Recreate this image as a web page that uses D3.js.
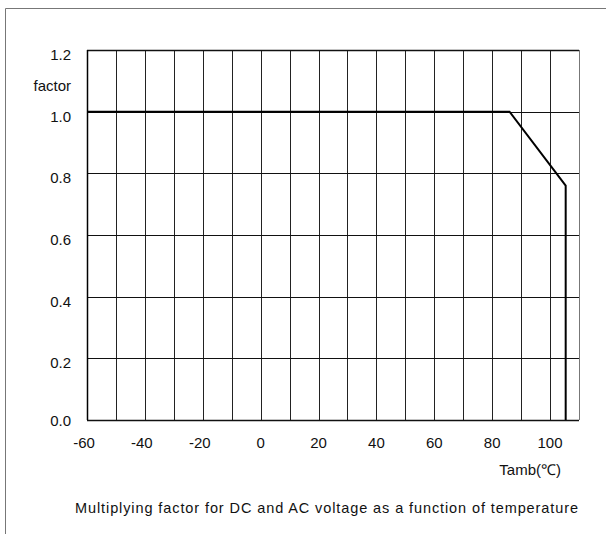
<!DOCTYPE html>
<html>
<head>
<meta charset="utf-8">
<script src="https://cdn.jsdelivr.net/npm/d3@7"></script>
<style>
  body { margin: 0; background: #fff; }
  text { font-family: "Liberation Sans", Arial, sans-serif; fill: #111; }
</style>
</head>
<body>
<div id="graph"></div>
<script>
// Derating curve: temperature (degC) vs multiplying factor
const temps = [-60, 86, 105.4, 105.4];
const factors = [1.0, 1.0, 0.76, 0.0];

const xTicks = [-60, -40, -20, 0, 20, 40, 60, 80, 100];
const yTicks = [0.0, 0.2, 0.4, 0.6, 0.8, 1.0, 1.2];
const xGrid = d3.range(-60, 111, 10);

const w = 606;
const h = 534;

const xScale = d3.scaleLinear().domain([-60, 110]).range([87, 579]);
const yScale = d3.scaleLinear().domain([0, 1.2]).range([420, 50]);

const svg = d3.select("#graph")
  .append("svg")
  .attr("width", w)
  .attr("height", h);

// outer frame (top and left only)
svg.append("path")
  .attr("d", "M5.5,534 L5.5,8.5 L606,8.5")
  .attr("fill", "none")
  .attr("stroke", "#777")
  .attr("stroke-width", 1);

// vertical grid
svg.selectAll(".vgrid")
  .data(xGrid)
  .enter()
  .append("line")
  .attr("class", "vgrid")
  .attr("x1", (d) => Math.round(xScale(d)) + 0.5)
  .attr("x2", (d) => Math.round(xScale(d)) + 0.5)
  .attr("y1", yScale(1.2))
  .attr("y2", yScale(0))
  .attr("stroke", (d) => d === 110 ? "#777" : "#222")
  .attr("stroke-width", 1);

// horizontal grid
svg.selectAll(".hgrid")
  .data(yTicks)
  .enter()
  .append("line")
  .attr("class", "hgrid")
  .attr("x1", xScale(-60))
  .attr("x2", xScale(110))
  .attr("y1", (d) => Math.round(yScale(d)) + 0.5)
  .attr("y2", (d) => Math.round(yScale(d)) + 0.5)
  .attr("stroke", "#111")
  .attr("stroke-width", (d) => d === 1.2 || d === 0 ? 1.5 : 1);

// left border of plot
svg.append("line")
  .attr("x1", xScale(-60) + 0.5).attr("x2", xScale(-60) + 0.5)
  .attr("y1", yScale(1.2)).attr("y2", yScale(0))
  .attr("stroke", "#000")
  .attr("stroke-width", 1.5);

// the curve
const line = d3.line()
  .x((d) => xScale(d[0]))
  .y((d) => yScale(d[1]));

svg.append("path")
  .datum(d3.zip(temps, factors))
  .attr("d", line)
  .attr("fill", "none")
  .attr("stroke", "#000")
  .attr("stroke-width", 2);

// y labels
svg.selectAll(".ylab")
  .data(yTicks)
  .enter()
  .append("text")
  .attr("class", "ylab")
  .attr("x", 71)
  .attr("y", (d) => yScale(d) + (d === 0 ? 2 : 6))
  .attr("text-anchor", "end")
  .attr("dominant-baseline", "middle")
  .style("font-size", "15px")
  .text((d) => d.toFixed(1));

svg.append("text")
  .attr("x", 71)
  .attr("y", 87)
  .attr("text-anchor", "end")
  .attr("dominant-baseline", "middle")
  .style("font-size", "15px")
  .text("factor");

// x labels
svg.selectAll(".xlab")
  .data(xTicks)
  .enter()
  .append("text")
  .attr("class", "xlab")
  .attr("x", (d) => xScale(d) - (d < 0 ? 3 : 0))
  .attr("y", 444)
  .attr("text-anchor", "middle")
  .attr("dominant-baseline", "middle")
  .style("font-size", "15px")
  .text((d) => d);

svg.append("text")
  .attr("x", 561)
  .attr("y", 471)
  .attr("text-anchor", "end")
  .attr("dominant-baseline", "middle")
  .style("font-size", "15px")
  .text("Tamb(℃)");

svg.append("text")
  .attr("x", 75)
  .attr("y", 509)
  .attr("textLength", 503)
  .attr("lengthAdjust", "spacing")
  .attr("dominant-baseline", "middle")
  .style("font-size", "14.5px")
  .text("Multiplying factor for DC and AC voltage as a function of temperature");
</script>
</body>
</html>
